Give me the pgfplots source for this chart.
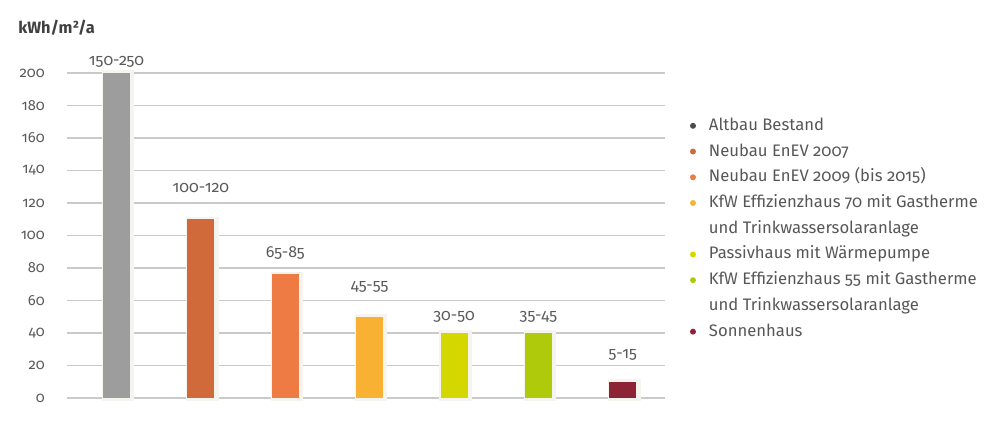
\documentclass[border=0pt]{standalone}
\usepackage{pgfplots}
\pgfplotsset{compat=1.18}
\usepackage{fontspec}
\setmainfont{Fira Sans}[Numbers=OldStyle]
\definecolor{cA}{HTML}{9D9D9D}
\definecolor{cB}{HTML}{D06A3B}
\definecolor{cC}{HTML}{EE7B43}
\definecolor{cD}{HTML}{F8B133}
\definecolor{cE}{HTML}{D5D700}
\definecolor{cF}{HTML}{AFCA0B}
\definecolor{cG}{HTML}{8E2336}
\definecolor{dA}{HTML}{4D4D4D}
\definecolor{shadowc}{HTML}{F6F4EF}
\definecolor{gridc}{HTML}{CACACA}
\definecolor{ticktxt}{HTML}{5A5A5A}
\definecolor{legtxt}{HTML}{575757}
\definecolor{titletxt}{HTML}{404040}
\pgfplotstableread{
x y
0 200
1 110
2 76
3 50
4 40
5 40
6 10
}\bars
\pgfplotstableread{
x y label
0 206.8 150-250
1 129.2 100-120
2 89.2 65-85
3 68.3 45-55
4 49.8 30-50
5 49.8 35-45
6 26.5 5-15
}\labels
\begin{document}
\begin{tikzpicture}
\useasboundingbox (0,0) rectangle (750pt,318pt);
\node[anchor=west, inner sep=0pt, font=\fontsize{12.3}{14}\selectfont\bfseries, text=titletxt] at (13.5pt,297pt) {kWh/m²/a};
\begin{axis}[
  at={(50.25pt,19.5pt)}, anchor=south west, scale only axis,
  width=448.5pt, height=243.75pt,
  xmin=-0.587, xmax=6.5, ymin=0, ymax=200,
  ytick={0,20,...,200}, xtick=\empty,
  ymajorgrids, grid style={draw=gridc, line width=0.9pt},
  axis line style={draw=none}, major tick length=0pt,
  tick label style={font=\fontsize{11}{12}\selectfont, text=ticktxt},
  yticklabel style={anchor=east, inner sep=0pt, xshift=-16.5pt},
  /pgf/number format/assume math mode=true,
  clip=false,
  legend style={at={(1.0418,0.8615)}, anchor=north west, draw=none, fill=none,
    inner sep=0pt, outer sep=0pt, row sep=7.6pt,
    font=\fontsize{12.5}{14}\selectfont,
    nodes={inner sep=0pt, text height=9.2pt, text depth=2.5pt, text=legtxt},
    cells={anchor=west}},
]
\addplot[ybar, bar width=20.25pt, bar shift=1.2pt, fill=shadowc, draw=shadowc, line width=4pt, forget plot] table[x=x,y=y] {\bars};
\addplot[ybar, bar width=20.25pt, bar shift=0pt, fill=cA, draw=none, forget plot] coordinates {(0,200)};
\addplot[ybar, bar width=20.25pt, bar shift=0pt, fill=cB, draw=none, forget plot] coordinates {(1,110)};
\addplot[ybar, bar width=20.25pt, bar shift=0pt, fill=cC, draw=none, forget plot] coordinates {(2,76)};
\addplot[ybar, bar width=20.25pt, bar shift=0pt, fill=cD, draw=none, forget plot] coordinates {(3,50)};
\addplot[ybar, bar width=20.25pt, bar shift=0pt, fill=cE, draw=none, forget plot] coordinates {(4,40)};
\addplot[ybar, bar width=20.25pt, bar shift=0pt, fill=cF, draw=none, forget plot] coordinates {(5,40)};
\addplot[ybar, bar width=20.25pt, bar shift=0pt, fill=cG, draw=none, forget plot] coordinates {(6,10)};
\addplot[draw=none, mark=none, forget plot, nodes near coords, point meta=explicit symbolic,
  every node near coord/.append style={anchor=center, inner sep=0pt, font=\fontsize{12}{14}\selectfont, text=ticktxt}]
  table[x=x,y=y,meta=label] {\labels};
\addlegendimage{legend image code/.code={\fill[dA,draw=none] (2.25pt,0pt) circle (2.25pt); \path[draw=none,fill=none] (0pt,0pt) -- (14.25pt,0pt);}}
\addlegendentry{Altbau Bestand}
\addlegendimage{legend image code/.code={\fill[cB,draw=none] (2.25pt,0pt) circle (2.25pt); \path[draw=none,fill=none] (0pt,0pt) -- (14.25pt,0pt);}}
\addlegendentry{Neubau EnEV 2007}
\addlegendimage{legend image code/.code={\fill[cC,draw=none] (2.25pt,0pt) circle (2.25pt); \path[draw=none,fill=none] (0pt,0pt) -- (14.25pt,0pt);}}
\addlegendentry{Neubau EnEV 2009 (bis 2015)}
\addlegendimage{legend image code/.code={\fill[cD,draw=none] (2.25pt,0pt) circle (2.25pt); \path[draw=none,fill=none] (0pt,0pt) -- (14.25pt,0pt);}}
\addlegendentry{KfW Effizienzhaus 70 mit Gastherme}
\addlegendimage{empty legend}
\addlegendentry{und Trinkwassersolaranlage}
\addlegendimage{legend image code/.code={\fill[cE,draw=none] (2.25pt,0pt) circle (2.25pt); \path[draw=none,fill=none] (0pt,0pt) -- (14.25pt,0pt);}}
\addlegendentry{Passivhaus mit Wärmepumpe}
\addlegendimage{legend image code/.code={\fill[cF,draw=none] (2.25pt,0pt) circle (2.25pt); \path[draw=none,fill=none] (0pt,0pt) -- (14.25pt,0pt);}}
\addlegendentry{KfW Effizienzhaus 55 mit Gastherme}
\addlegendimage{empty legend}
\addlegendentry{und Trinkwassersolaranlage}
\addlegendimage{legend image code/.code={\fill[cG,draw=none] (2.25pt,0pt) circle (2.25pt); \path[draw=none,fill=none] (0pt,0pt) -- (14.25pt,0pt);}}
\addlegendentry{Sonnenhaus}
\end{axis}
\end{tikzpicture}
\end{document}
